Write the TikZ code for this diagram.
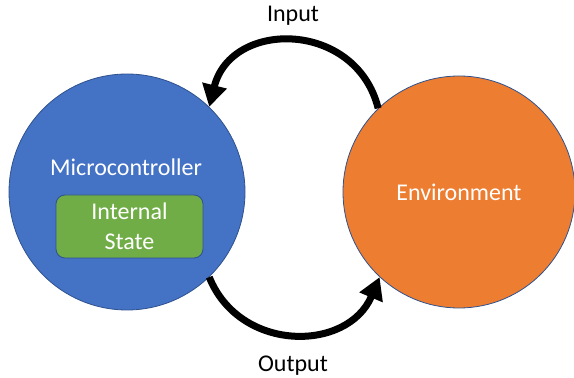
\documentclass[tikz,border=0pt]{standalone}
\usepackage{fontspec}
\setmainfont{Carlito}
\usetikzlibrary{arrows.meta}
\definecolor{mcblue}{HTML}{4472C4}
\definecolor{envorange}{HTML}{ED7D31}
\definecolor{stategreen}{HTML}{70AD47}
\definecolor{edgeblue}{HTML}{2F528F}
\tikzset{%
  blob/.style={circle,draw=edgeblue,line width=0.8pt,fill=#1,inner sep=0pt},
  blob/.default=mcblue,
  txt/.style={font=\fontsize{24}{30}\selectfont,text=#1,inner sep=0pt},
  txt/.default=white,
  flow/.style={line width=7pt,-{Triangle[length=22pt,width=24pt]}}
}

\begin{document}
\begin{tikzpicture}[x=1pt,y=1pt]
    \useasboundingbox (0,0) rectangle (574,378);
    % the two circles
    \node[blob=mcblue,minimum size=236pt] (mc) at (127,186) {};
    \node[blob=envorange,minimum size=232pt,txt] (env) at (459,186) {Environment};
    %
    \node[txt] (mclabel) at (126,211) {Microcontroller};
    \node[draw=edgeblue,line width=0.8pt,fill=stategreen,rounded corners=9pt,
      minimum width=147pt,minimum height=63pt,txt,align=center]
      (state) at (129.5,151.5) {Internal\\State};
    %
    \node[txt=black] (input) at (293,362) {Input};
    \node[txt=black] (output) at (293,12) {Output};
    % the loop
    \draw[flow] (env.134) to[out=104,in=76,looseness=1.37] (mc.46);
    \draw[flow] (mc.-46) to[out=292,in=247,looseness=1.23] (env.227);
\end{tikzpicture}
\end{document}
